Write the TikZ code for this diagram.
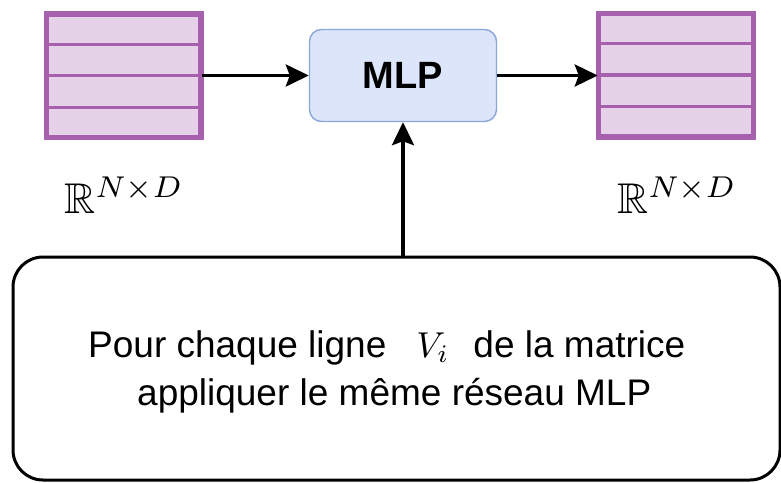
\documentclass[tikz,border=0pt]{standalone}
\usepackage{amsmath,amssymb}
\usepackage{graphicx}
\usepackage{fontspec}
\setmainfont{Liberation Sans}
\usetikzlibrary{arrows.meta,calc}

\definecolor{matfill}{HTML}{E5D1E8}
\definecolor{matdraw}{HTML}{A660AE}
\definecolor{mlpfill}{HTML}{DCE5FA}
\definecolor{mlpdraw}{HTML}{8CA6DC}

% math typeset at 10pt, then enlarged
\newcommand{\bigmath}[2]{\scalebox{#1}{\fontsize{10}{12}\selectfont$#2$}}

\tikzset{
  matbox/.style={draw=matdraw, fill=matfill, line width=3.5pt,
    minimum width=153pt, minimum height=122pt, inner sep=0pt},
  rowline/.style={draw=matdraw, line width=3.2pt},
  mlpbox/.style={draw=mlpdraw, fill=mlpfill, line width=1.4pt, rounded corners=12pt,
    minimum width=187pt, minimum height=92pt, inner sep=0pt,
    font=\fontsize{38}{44}\selectfont\bfseries},
  notebox/.style={draw=black, line width=3pt, rounded corners=30pt,
    minimum width=767pt, minimum height=223pt, inner sep=0pt},
  bodytext/.style={inner sep=0pt, anchor=base west, font=\fontsize{37}{44}\selectfont},
  dimlabel/.style={inner sep=0pt, anchor=base},
  flow/.style={line width=3.5pt, draw=black,
    -{Stealth[length=23pt, width=22pt, inset=4pt]}},
}

\begin{document}
\begin{tikzpicture}[x=1pt, y=-1pt]
  \useasboundingbox (0,0) rectangle (781,482);

  % input and output matrices, four rows each
  \node[matbox] (lm) at (123.5,75.75) {};
  \node[matbox] (rm) at (676,75) {};
  \foreach \m in {lm,rm}{
    \foreach \k in {1,2,3}{
      \draw[rowline] ($(\m.north west)!\k/4!(\m.south west)$) -- ($(\m.north east)!\k/4!(\m.south east)$);
    }
    \draw[matdraw, line width=3.5pt] (\m.north west) rectangle (\m.south east);
  }

  % shared network
  \node[mlpbox] (mlp) at (403,75.5) {MLP};

  % shape labels
  \node[dimlabel] (ldim) at (124,213) {\bigmath{4.3}{\mathbb{R}^{N\times D}}};
  \node[dimlabel] (rdim) at (677,213) {\bigmath{4.3}{\mathbb{R}^{N\times D}}};

  % explanation box
  \node[notebox] (note) at (396.5,368.5) {};
  \node[bodytext] (line1) at (88,357)
    {Pour chaque ligne\hspace{30pt}\bigmath{3.6}{V_i}\hspace{24pt}de la matrice};
  \node[bodytext] (line2) at (137,405) {appliquer le même réseau MLP};

  % connectors
  \draw[flow] (lm.east |- mlp.west) -- (mlp.west);
  \draw[flow] (mlp.east) -- (mlp.east -| rm.west);
  \draw[flow] (mlp.south |- note.north) -- (mlp.south);
\end{tikzpicture}
\end{document}
